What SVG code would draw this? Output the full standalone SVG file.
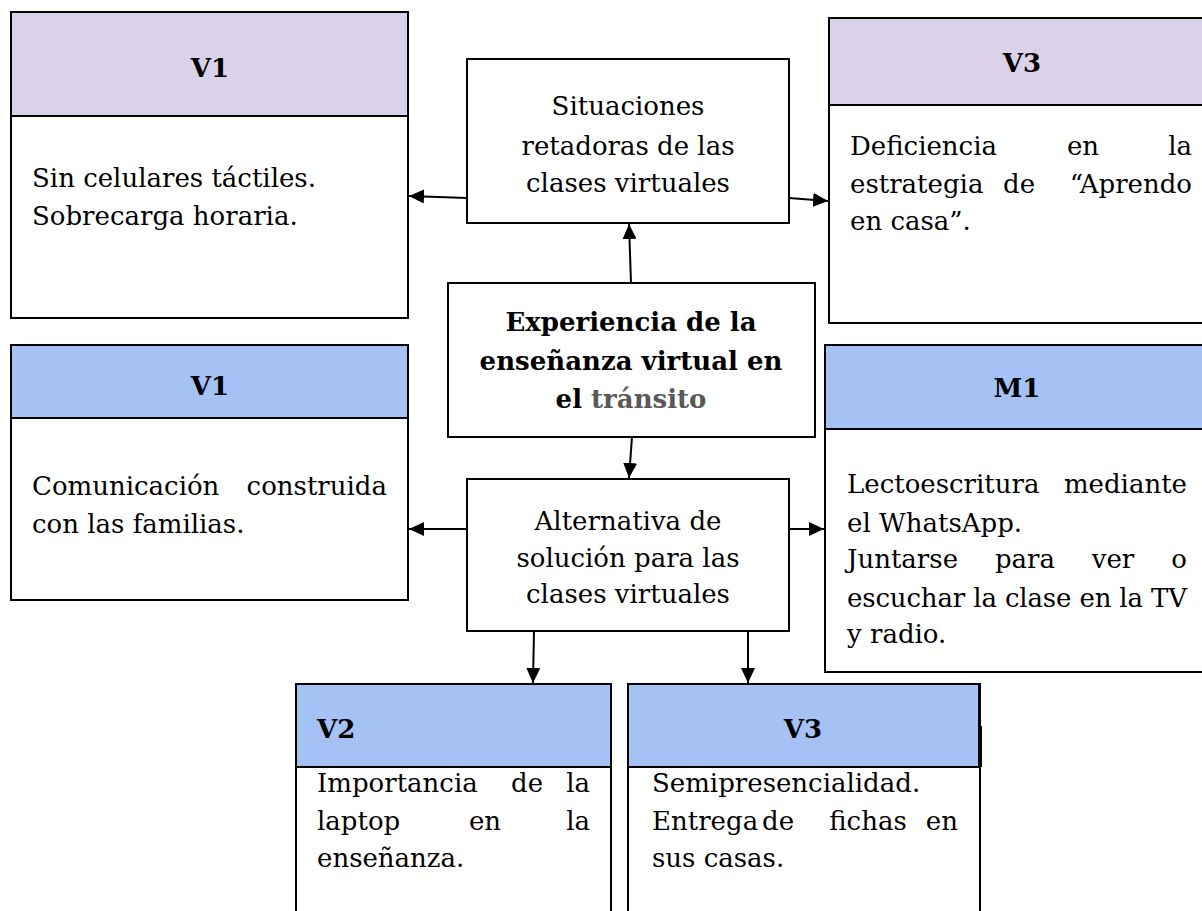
<svg xmlns="http://www.w3.org/2000/svg" width="1202" height="911" viewBox="0 0 1202 911">
<style>
.box{fill:#fff;stroke:#000;stroke-width:2}
.hl{fill:#D9D2E9;stroke:#000;stroke-width:2}
.hb{fill:#A4C2F4;stroke:#000;stroke-width:2}
.t{font-family:"DejaVu Serif","Liberation Serif",serif;font-size:26px;fill:#000}
.h{font-family:"DejaVu Serif","Liberation Serif",serif;font-size:26px;font-weight:bold;fill:#000}
.c{text-anchor:middle}
.e{text-anchor:end}
.con{stroke:#000;stroke-width:2;fill:none;marker-end:url(#ah)}
</style>
<defs>
<marker id="ah" viewBox="0 0 15 14" refX="15" refY="7" markerWidth="15" markerHeight="14" markerUnits="userSpaceOnUse" orient="auto">
<path d="M0,0 L15,7 L0,14 Z" fill="#000"/>
</marker>
</defs>
<rect width="1202" height="911" fill="#fff"/>

<g id="v1-top">
<rect class="box" x="11" y="12" width="397" height="306"/>
<rect class="hl" x="11" y="12" width="397" height="104"/>
<text class="h c" x="210" y="77">V1</text>
<text class="t" x="32" y="187">Sin celulares táctiles.</text>
<text class="t" x="32" y="225">Sobrecarga horaria.</text>
</g>

<g id="v3-top">
<rect class="box" x="829" y="18" width="390" height="305"/>
<rect class="hl" x="829" y="18" width="390" height="87"/>
<text class="h c" x="1022" y="72">V3</text>
<text class="t" y="155"><tspan x="850">Deficiencia</tspan><tspan x="1083" class="c">en</tspan><tspan x="1192" class="e">la</tspan></text>
<text class="t" y="193"><tspan x="850">estrategia</tspan><tspan x="1019" class="c">de</tspan><tspan x="1192" class="e">“Aprendo</tspan></text>
<text class="t" x="850" y="230">en casa”.</text>
</g>

<g id="situaciones">
<rect class="box" x="467" y="59" width="322" height="164"/>
<text class="t c" x="628" y="115">Situaciones</text>
<text class="t c" x="628" y="155">retadoras de las</text>
<text class="t c" x="628" y="192">clases virtuales</text>
</g>

<g id="experiencia">
<rect class="box" x="448" y="283" width="367" height="154"/>
<text class="h c" x="631" y="331">Experiencia de la</text>
<text class="h c" x="631" y="370">enseñanza virtual en</text>
<text class="h c" x="631" y="408">el <tspan fill="#595959">tránsito</tspan></text>
</g>

<g id="v1-left">
<rect class="box" x="11" y="345" width="397" height="255"/>
<rect class="hb" x="11" y="345" width="397" height="73"/>
<text class="h c" x="210" y="395">V1</text>
<text class="t" y="495"><tspan x="32">Comunicación</tspan><tspan x="387" class="e">construida</tspan></text>
<text class="t" x="32" y="533">con las familias.</text>
</g>

<g id="alternativa">
<rect class="box" x="467" y="479" width="322" height="152"/>
<text class="t c" x="628" y="530">Alternativa de</text>
<text class="t c" x="628" y="567">solución para las</text>
<text class="t c" x="628" y="603">clases virtuales</text>
</g>

<g id="m1">
<rect class="box" x="825" y="345" width="390" height="327"/>
<rect class="hb" x="825" y="345" width="390" height="84"/>
<text class="h c" x="1017" y="397">M1</text>
<text class="t" y="493"><tspan x="847">Lectoescritura</tspan><tspan x="1187" class="e">mediante</tspan></text>
<text class="t" x="847" y="532">el WhatsApp.</text>
<text class="t" y="568"><tspan x="847">Juntarse</tspan><tspan x="1025" class="c">para</tspan><tspan x="1113" class="c">ver</tspan><tspan x="1187" class="e">o</tspan></text>
<text class="t" x="847" y="607" textLength="340" lengthAdjust="spacing">escuchar la clase en la TV</text>
<text class="t" x="847" y="643">y radio.</text>
</g>

<g id="v2">
<rect class="box" x="296" y="684" width="315" height="240"/>
<rect class="hb" x="296" y="684" width="315" height="83"/>
<text class="h" x="317" y="738">V2</text>
<text class="t" y="792"><tspan x="317">Importancia</tspan><tspan x="527" class="c">de</tspan><tspan x="590" class="e">la</tspan></text>
<text class="t" y="830"><tspan x="317">laptop</tspan><tspan x="485" class="c">en</tspan><tspan x="590" class="e">la</tspan></text>
<text class="t" x="317" y="867">enseñanza.</text>
</g>

<g id="v3-bottom">
<rect class="box" x="628" y="684" width="352" height="240"/>
<rect class="hb" x="628" y="684" width="351" height="83"/>
<line x1="981" y1="726" x2="981" y2="767" stroke="#000" stroke-width="2"/>
<text class="h c" x="803" y="738">V3</text>
<text class="t" x="652" y="792">Semipresencialidad.</text>
<text class="t" y="830"><tspan x="652">Entrega</tspan><tspan x="778" class="c">de</tspan><tspan x="868" class="c">fichas</tspan><tspan x="958" class="e">en</tspan></text>
<text class="t" x="652" y="867">sus casas.</text>
</g>

<g id="connectors">
<path class="con" d="M467,198 L409,196"/>
<path class="con" d="M789,198 L828,201"/>
<path class="con" d="M631,283 L629,224"/>
<path class="con" d="M632,437 L629,478"/>
<path class="con" d="M467,529 L409,529"/>
<path class="con" d="M789,529 L824,529"/>
<path class="con" d="M534,631 L533,683"/>
<path class="con" d="M748,630 L748,683"/>
</g>
</svg>
